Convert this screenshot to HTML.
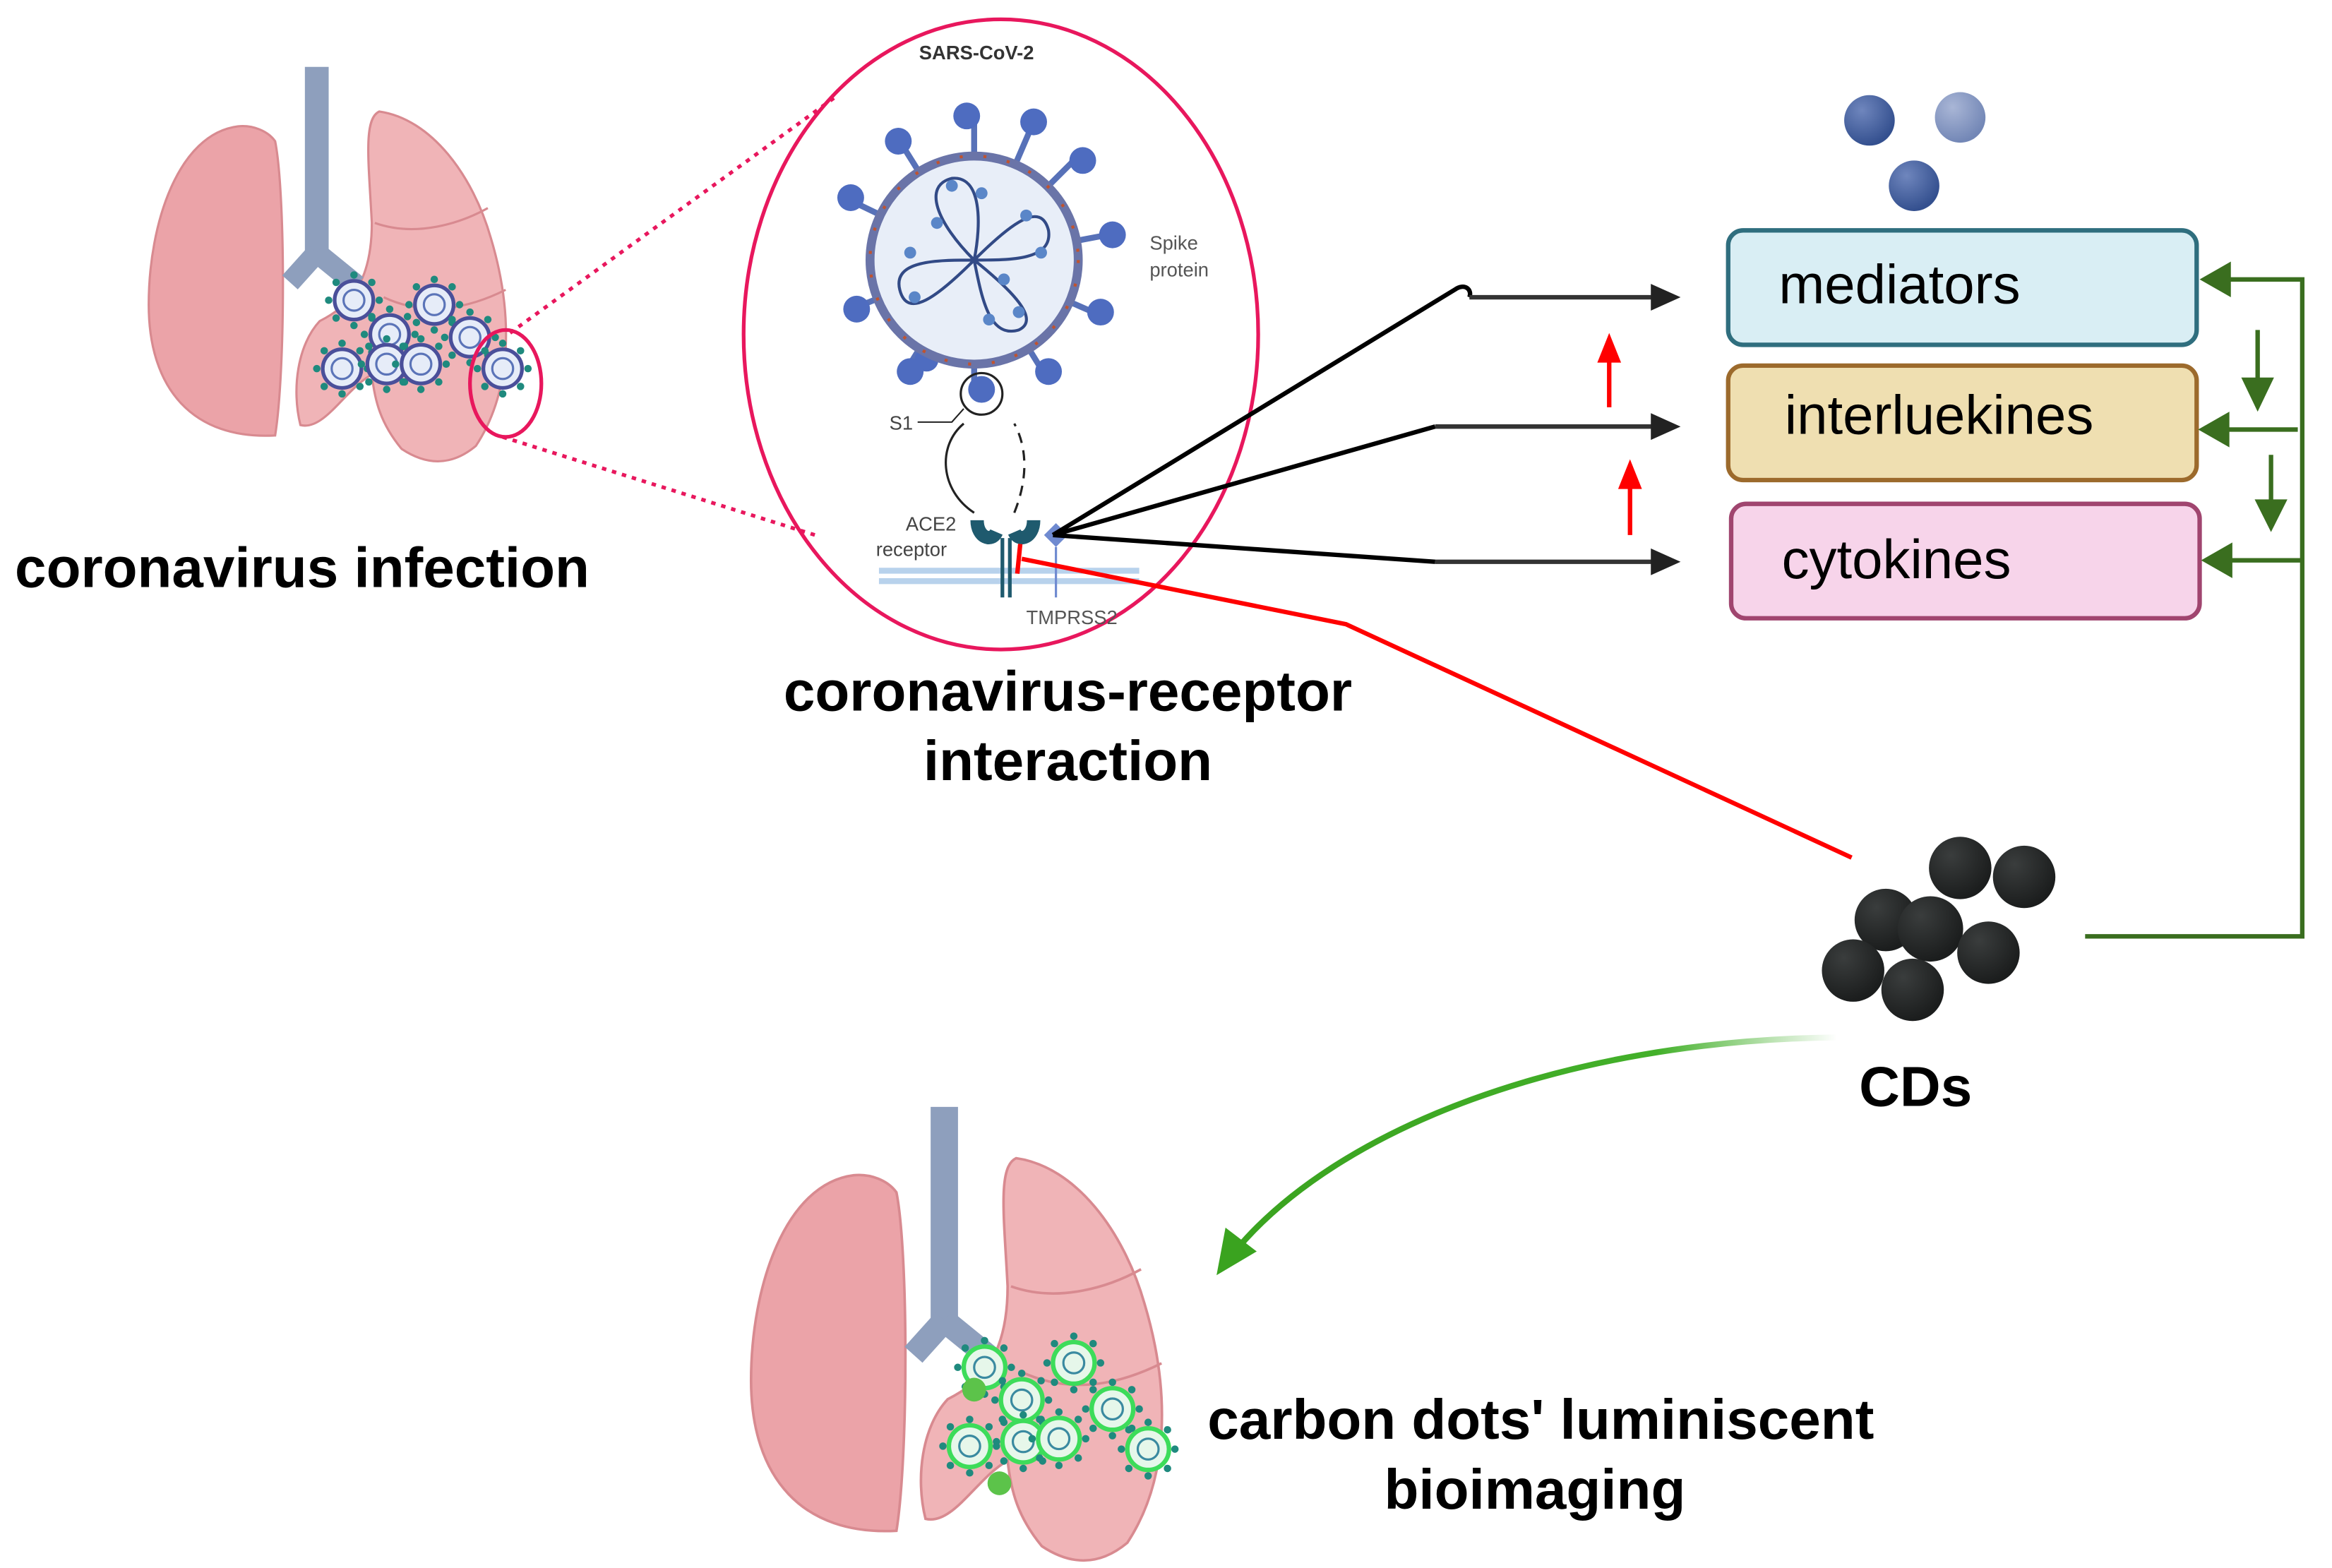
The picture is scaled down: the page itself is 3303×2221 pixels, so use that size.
<!DOCTYPE html>
<html><head><meta charset="utf-8"><style>
html,body{margin:0;padding:0;background:#fff;}
svg{display:block}
text{font-family:"Liberation Sans",sans-serif;}
</style></head><body>
<svg width="3303" height="2221" viewBox="0 0 1568 1055" preserveAspectRatio="none" xmlns="http://www.w3.org/2000/svg">
<defs>
<g id="lung">
 <path d="M160,85 C120,90 100,150 100,205 C100,262 130,296 185,293 C192,250 192,130 185,95 C180,88 170,84 160,85 Z" fill="#eba3a8" stroke="#d88a90" stroke-width="1.5"/>
 <path d="M255,75 C290,80 318,118 330,160 C345,210 345,262 320,300 C302,315 285,312 270,302 C256,285 252,270 250,252 C232,262 218,290 202,286 C196,262 200,232 215,216 C235,206 250,190 250,150 C248,110 244,80 255,75 Z" fill="#f0b4b7" stroke="#d88a90" stroke-width="1.5"/>
 <path d="M252,150 C280,160 310,150 328,140 M258,200 C290,215 320,205 340,195" stroke="#d88a90" stroke-width="1.5" fill="none"/>
 <rect x="205" y="45" width="16" height="128" fill="#8e9fbd"/>
 <path d="M213,170 L195,190 M213,170 L240,192" stroke="#8e9fbd" stroke-width="14" fill="none"/>
</g>
<g id="vir">
 <circle r="13" fill="#e6ecf8" stroke="#4a4f9a" stroke-width="2.5"/>
 <circle r="7" fill="none" stroke="#5b74b8" stroke-width="1.5"/>
 <g fill="#1f8a7e"><circle cx="0" cy="-17" r="2.5"/><circle cx="0" cy="17" r="2.5"/><circle cx="17" cy="0" r="2.5"/><circle cx="-17" cy="0" r="2.5"/><circle cx="12" cy="12" r="2.5"/><circle cx="-12" cy="12" r="2.5"/><circle cx="12" cy="-12" r="2.5"/><circle cx="-12" cy="-12" r="2.5"/></g>
</g>
<g id="virg">
 <circle r="14" fill="#e6f7ea" stroke="#3ddc5a" stroke-width="3"/>
 <circle r="7" fill="none" stroke="#3a8aa0" stroke-width="1.5"/>
 <g fill="#1f8a7e"><circle cx="0" cy="-18" r="2.5"/><circle cx="0" cy="18" r="2.5"/><circle cx="18" cy="0" r="2.5"/><circle cx="-18" cy="0" r="2.5"/><circle cx="13" cy="13" r="2.5"/><circle cx="-13" cy="13" r="2.5"/><circle cx="13" cy="-13" r="2.5"/><circle cx="-13" cy="-13" r="2.5"/></g>
</g>
<linearGradient id="gfade" x1="1" y1="0" x2="0" y2="0"><stop offset="0" stop-color="#43b02a" stop-opacity="0"/><stop offset="0.3" stop-color="#43b02a"/><stop offset="1" stop-color="#3aa31f"/></linearGradient>
<radialGradient id="bb" cx="0.35" cy="0.3" r="0.7"><stop offset="0" stop-color="#6f86bd"/><stop offset="1" stop-color="#34508f"/></radialGradient>
<radialGradient id="bl" cx="0.35" cy="0.3" r="0.7"><stop offset="0" stop-color="#a9b6d6"/><stop offset="1" stop-color="#7387b6"/></radialGradient>
<radialGradient id="cd" cx="0.35" cy="0.3" r="0.7"><stop offset="0" stop-color="#3a3d3d"/><stop offset="1" stop-color="#1b1d1d"/></radialGradient>
</defs>

<use href="#lung"/>
<use href="#vir" x="238" y="202"/><use href="#vir" x="292" y="205"/><use href="#vir" x="262" y="225"/><use href="#vir" x="316" y="227"/>
<use href="#vir" x="230" y="248"/><use href="#vir" x="260" y="245"/><use href="#vir" x="283" y="245"/><use href="#vir" x="338" y="248"/>
<ellipse cx="340" cy="258" rx="24" ry="36" fill="none" stroke="#e8175d" stroke-width="2.5"/>
<path d="M343,224 L562,65 M338,294 L548,360" stroke="#e8175d" stroke-width="2.5" stroke-dasharray="3,4"/>
<text x="10" y="395" font-size="38" font-weight="bold" fill="#000">coronavirus infection</text>

<ellipse cx="673" cy="225" rx="173" ry="212" fill="none" stroke="#e8175d" stroke-width="2.5"/>
<text x="618" y="40" font-size="13" font-weight="bold" fill="#333">SARS-CoV-2</text>
<g>
 <g stroke="#5771b8" stroke-width="4">
  <path d="M655,175 L655,80 M655,175 L725,105 M655,175 L745,158 M655,175 L735,210 M655,175 L700,248 M655,175 L655,262 M655,175 L610,248 M655,175 L580,205 M655,175 L572,135 M655,175 L605,95 M655,175 L695,82"/>
 </g>
 <g fill="#4e6cc0">
  <circle cx="650" cy="78" r="9"/><circle cx="695" cy="82" r="9"/><circle cx="728" cy="108" r="9"/><circle cx="748" cy="158" r="9"/><circle cx="740" cy="210" r="9"/><circle cx="705" cy="250" r="9"/><circle cx="660" cy="262" r="9"/><circle cx="612" cy="250" r="9"/><circle cx="576" cy="208" r="9"/><circle cx="572" cy="133" r="9"/><circle cx="604" cy="95" r="9"/><circle cx="623" cy="242" r="8"/>
 </g>
 <circle cx="655" cy="175" r="70" fill="#e8eef8" stroke="#6a74a8" stroke-width="6"/>
 <circle cx="655" cy="175" r="70" fill="none" stroke="#c0532f" stroke-width="2" stroke-dasharray="2,14"/>
 <g fill="none" stroke="#324a86" stroke-width="2">
  <path d="M655,175 C630,150 620,125 640,120 C660,118 660,150 655,175 C680,150 700,135 705,155 C708,175 680,175 655,175 C680,195 700,215 685,222 C665,228 660,200 655,175 C630,200 610,215 605,195 C600,175 630,175 655,175"/>
 </g>
 <g fill="#5a86c8"><circle cx="640" cy="125" r="4"/><circle cx="660" cy="130" r="4"/><circle cx="690" cy="145" r="4"/><circle cx="700" cy="170" r="4"/><circle cx="685" cy="210" r="4"/><circle cx="665" cy="215" r="4"/><circle cx="615" cy="200" r="4"/><circle cx="612" cy="170" r="4"/><circle cx="630" cy="150" r="4"/><circle cx="675" cy="188" r="4"/></g>
 <circle cx="660" cy="265" r="14" fill="none" stroke="#222" stroke-width="1.5"/>
</g>
<text x="773" y="168" font-size="13" fill="#555">Spike</text>
<text x="773" y="186" font-size="13" fill="#555">protein</text>
<text x="598" y="289" font-size="13" fill="#444">S1</text>
<path d="M617,284 L640,284 L648,275" stroke="#222" stroke-width="1" fill="none"/>
<path d="M648,285 C630,300 632,330 655,345" stroke="#222" stroke-width="1.5" fill="none"/>
<path d="M682,345 C692,320 690,300 682,285" stroke="#222" stroke-width="1.5" fill="none" stroke-dasharray="7,5"/>
<text x="609" y="357" font-size="13" fill="#444">ACE2</text>
<text x="589" y="374" font-size="13" fill="#444">receptor</text>
<rect x="591" y="382" width="175" height="4" fill="#b8d2ec"/><rect x="591" y="389" width="175" height="4" fill="#b8d2ec"/>
<path d="M657,350 C657,362 667,365 670,358 M695,350 C695,362 685,365 682,358" stroke="#1f5a6e" stroke-width="9" fill="none"/>
<path d="M674,362 L674,402 M679,362 L679,402" stroke="#1f5a6e" stroke-width="2.5"/>
<path d="M702,360 L710,352 L718,360 L710,368 Z" fill="#6f8ad0"/>
<path d="M710,368 L710,402" stroke="#6f8ad0" stroke-width="1.5"/>
<text x="690" y="420" font-size="13" fill="#555">TMPRSS2</text>

<text x="718" y="478" font-size="38" font-weight="bold" text-anchor="middle">coronavirus-receptor</text>
<text x="718" y="525" font-size="38" font-weight="bold" text-anchor="middle">interaction</text>

<g stroke="#000" stroke-width="3" fill="none">
 <path d="M708,360 L978,195 C985,190 990,195 988,200"/>
 <path d="M708,360 L965,287"/>
 <path d="M708,360 L965,378"/>
</g>
<g stroke="#333" stroke-width="3" fill="none">
 <path d="M988,200 L1112,200"/><path d="M965,287 L1112,287"/><path d="M965,378 L1112,378"/>
</g>
<g fill="#222"><path d="M1130,200 L1110,191 L1110,209 Z"/><path d="M1130,287 L1110,278 L1110,296 Z"/><path d="M1130,378 L1110,369 L1110,387 Z"/></g>

<path d="M1082,274 L1082,240" stroke="#f00" stroke-width="3"/><path d="M1082,224 L1074,244 L1090,244 Z" fill="#f00"/>
<path d="M1096,360 L1096,326" stroke="#f00" stroke-width="3"/><path d="M1096,309 L1088,329 L1104,329 Z" fill="#f00"/>

<path d="M687,376 L905,420 L1245,577" stroke="#f00" stroke-width="3" fill="none"/>
<path d="M686,366 L684,386" stroke="#f00" stroke-width="3"/>

<circle cx="1257" cy="81" r="17" fill="url(#bb)"/>
<circle cx="1318" cy="79" r="17" fill="url(#bl)"/>
<circle cx="1287" cy="125" r="17" fill="url(#bb)"/>

<rect x="1162" y="155" width="315" height="77" rx="10" fill="#d9eef4" stroke="#2f6e7e" stroke-width="3"/>
<text x="1196" y="204" font-size="37" fill="#000">mediators</text>
<rect x="1162" y="246" width="315" height="77" rx="10" fill="#efdfb1" stroke="#9c6a2c" stroke-width="3"/>
<text x="1200" y="292" font-size="37" fill="#000">interluekines</text>
<rect x="1164" y="339" width="315" height="77" rx="10" fill="#f7d4ea" stroke="#a0456f" stroke-width="3"/>
<text x="1198" y="389" font-size="37" fill="#000">cytokines</text>

<g stroke="#3a6e1f" stroke-width="3" fill="none">
 <path d="M1402,630 L1548,630 L1548,188 L1495,188"/>
 <path d="M1545,289 L1495,289"/>
 <path d="M1548,377 L1495,377"/>
 <path d="M1518,222 L1518,260"/>
 <path d="M1527,306 L1527,342"/>
</g>
<g fill="#3a6e1f">
 <path d="M1479,188 L1500,176 L1500,200 Z"/>
 <path d="M1478,289 L1499,277 L1499,301 Z"/>
 <path d="M1480,377 L1501,365 L1501,389 Z"/>
 <path d="M1518,277 L1507,254 L1529,254 Z"/>
 <path d="M1527,358 L1516,336 L1538,336 Z"/>
</g>

<circle cx="1318" cy="584" r="21" fill="url(#cd)"/>
<circle cx="1361" cy="590" r="21" fill="url(#cd)"/>
<circle cx="1268" cy="619" r="21" fill="url(#cd)"/>
<circle cx="1298" cy="625" r="22" fill="url(#cd)"/>
<circle cx="1337" cy="641" r="21" fill="url(#cd)"/>
<circle cx="1246" cy="653" r="21" fill="url(#cd)"/>
<circle cx="1286" cy="666" r="21" fill="url(#cd)"/>
<text x="1288" y="744" font-size="38" font-weight="bold" text-anchor="middle">CDs</text>

<path d="M1235,698 C1050,700 900,760 832,840" stroke="url(#gfade)" stroke-width="4" fill="none"/>
<path d="M818,858 L824,826 L845,842 Z" fill="#3aa31f"/>

<g transform="translate(390,693) scale(1.15)"><use href="#lung"/></g>
<use href="#virg" x="662" y="920"/><use href="#virg" x="722" y="917"/><use href="#virg" x="687" y="942"/><use href="#virg" x="748" y="948"/>
<use href="#virg" x="652" y="973"/><use href="#virg" x="688" y="970"/><use href="#virg" x="712" y="968"/><use href="#virg" x="772" y="975"/>
<circle cx="655" cy="935" r="8" fill="#5cc34a"/><circle cx="672" cy="998" r="8" fill="#5cc34a"/>
<text x="1036" y="968" font-size="38" font-weight="bold" text-anchor="middle">carbon dots' luminiscent</text>
<text x="1032" y="1015" font-size="38" font-weight="bold" text-anchor="middle">bioimaging</text>
</svg>
</body></html>
